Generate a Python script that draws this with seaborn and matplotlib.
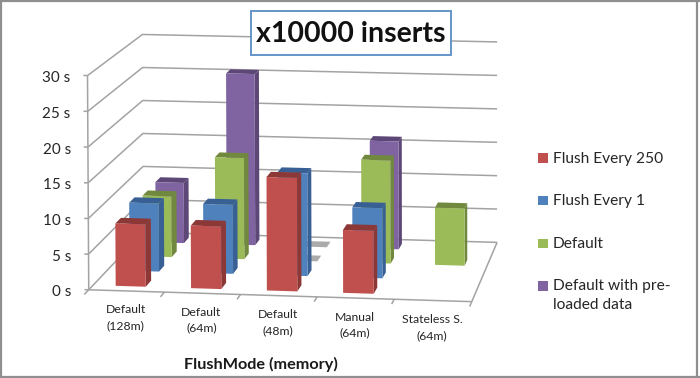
import numpy as np
import seaborn as sns
import matplotlib.pyplot as plt
from matplotlib.colors import to_rgba
from matplotlib.patches import Rectangle
from mpl_toolkits.mplot3d.art3d import Line3DCollection

sns.set_theme(style='white')
plt.rcParams['font.family'] = ['Lato', 'DejaVu Sans']

categories = ['Default\n(128m)', 'Default\n(64m)', 'Default\n(48m)', 'Manual\n(64m)', 'Stateless S.\n(64m)']
series_names = ['Flush Every 250', 'Flush Every 1', 'Default', 'Default with pre-\nloaded data']
flush_250 = [8.8, 8.8, 15.9, 8.8, np.nan]
flush_1 = [9.8, 9.9, 14.7, 10.0, np.nan]
default = [8.9, 14.8, 0, 15.0, 8.3]
default_preloaded = [9.0, 25.5, 0, 16.0, np.nan]
values = [flush_250, flush_1, default, default_preloaded]
z_ticks = [0, 5, 10, 15, 20, 25, 30]

front_cols = sns.color_palette(['#C0504D', '#4F81BD', '#9BBB59', '#8064A2'])
dark_cols = sns.color_palette(['#8C3836', '#386094', '#71893F', '#5C4776'])
line_col = '#A3A3A3'
text_col = '#262626'

# 바닥/벽 모서리 -> 픽셀 위치로 투영행렬 맞추기 (엑셀 3D 차트 시점)
nx, ny, nz = len(categories), len(values), z_ticks[-1]
world = [(0, 0, 0), (nx, 0, 0), (0, ny, 0), (nx, ny, 0), (0, 0, nz), (0, ny, nz), (nx, ny, nz)]
pixel = [(89, 289), (472, 302), (143, 233), (497, 242), (87, 76), (143, 34), (497, 42)]
A, b = [], []
for (x, y, z), (u, v) in zip(world, pixel):
    v = 378 - v
    A.append([x, y, z, 1, 0, 0, 0, 0, -u * x, -u * y, -u * z])
    A.append([0, 0, 0, 0, x, y, z, 1, -v * x, -v * y, -v * z])
    b += [u, v]
p = np.linalg.lstsq(np.array(A, float), np.array(b, float), rcond=None)[0]
M = np.array([p[:4], p[4:8], [0, 1, 0, 0], [p[8], p[9], p[10], 1]])


def to_px(x, y, z):
    w = M @ np.array([x, y, z, 1.0])
    return w[0] / w[3], w[1] / w[3]


fig = plt.figure(figsize=(7, 3.78), dpi=100)
ax = fig.add_axes([0, -161 / 378, 1, 700 / 378], projection='3d', computed_zorder=False)
ax.set_axis_off()
ax.set_xticks([])
ax.set_yticks([])
ax.set_zticks([])
ax.patch.set_alpha(0)
ax.get_proj = lambda: M
ax._viewLim.intervalx = (0, 700)
ax._viewLim.intervaly = (-161, 539)

# 벽 눈금선
segs = []
for z in z_ticks:
    segs.append([(0, 0, z), (0, ny, z), (nx, ny, z)])
    segs.append([(-0.055, 0, z), (0, 0, z)])
    ax.annotate(f'{z} s', xy=to_px(0, 0, z), xytext=(-17, -2.5), textcoords='offset pixels',
                ha='right', va='center', fontsize=11, color=text_col, annotation_clip=False, zorder=30)
segs.append([(0, 0, 0), (0, 0, nz)])
segs.append([(0, 0, 0), (nx, 0, 0), (nx, ny, 0)])
for i in range(nx + 1):
    segs.append([(i, 0, 0), (i, -0.3, 0)])
ax.add_collection3d(Line3DCollection(segs, colors=line_col, linewidths=1.1, zorder=1), autolim=False)

for i, lab in enumerate(categories):
    ax.annotate(lab, xy=to_px(i + 0.5, 0, 0), xytext=(-1, -27), textcoords='offset pixels',
                ha='center', va='center', fontsize=8.8, color=text_col, linespacing=1.55,
                annotation_clip=False, zorder=30)

# 막대 : 뒤 시리즈부터
none = (0, 0, 0, 0)
for s in reversed(range(ny)):
    for i, val in enumerate(values[s]):
        if np.isnan(val):
            continue
        if val == 0:
            cols = [none, to_rgba('#ABABAB'), none, none, none, none]
        else:
            cols = [none, dark_cols[s], front_cols[s], none, none, dark_cols[s]]
        ax.bar3d(i + 0.3, s + 0.3, 0, 0.4, 0.4, val, color=cols, shade=False,
                 edgecolor='none', zorder=10 + (ny - s))

# 이미지 테두리
for pts in [[(1, 1), (1, 377)], [(0, 1), (700, 1)], [(697, 0), (697, 378)], [(0, 376.5), (700, 376.5)]]:
    fig.add_artist(plt.Line2D([q[0] / 700 for q in pts], [1 - q[1] / 378 for q in pts],
                              color='#8F8F8F', lw=1.6))

# 제목 상자
fig.add_artist(Rectangle((251 / 700, 1 - 55 / 378), 200 / 700, 44 / 378, transform=fig.transFigure,
                         fc='white', ec='#5B8CC4', lw=1.3, zorder=5))
fig.text(351 / 700, 1 - 33.5 / 378, 'x10000 inserts', ha='center', va='center', fontsize=20.5,
         fontweight='bold', color='#111111', zorder=6)

fig.text(260.5 / 700, 1 - 364 / 378, 'FlushMode (memory)', ha='center', va='center', fontsize=11.7,
         fontweight='bold', color='#1a1a1a')

# 범례
legend_y = [158.5, 201, 243.5, 286]
for name, c, y in zip(series_names, front_cols, legend_y):
    fig.add_artist(Rectangle((538 / 700, 1 - (y + 4.5) / 378), 10 / 700, 9.5 / 378,
                             transform=fig.transFigure, fc=c, ec='none'))
    fig.text(553 / 700, 1 - (y - 7) / 378, name, ha='left', va='top', fontsize=11.2,
             color=text_col, linespacing=1.42)

fig.savefig('out.png', dpi=100)
